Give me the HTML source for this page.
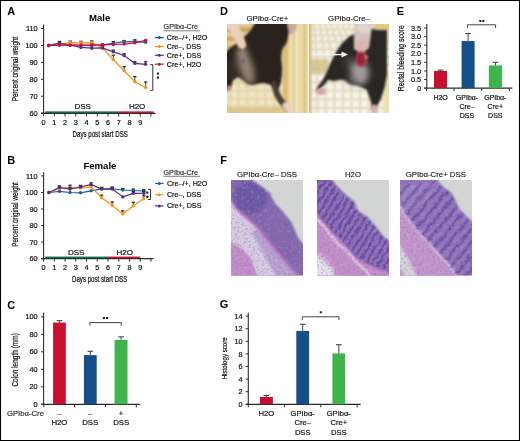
<!DOCTYPE html>
<html><head><meta charset="utf-8"><title>Figure</title>
<style>html,body{margin:0;padding:0;background:#fff;} svg{display:block;will-change:transform;} text{font-family:"Liberation Sans", sans-serif;}</style>
</head><body>
<svg width="520" height="441" viewBox="0 0 520 441" font-family='"Liberation Sans", sans-serif'>
<rect x="0" y="0" width="520" height="441" fill="#fff"/>
<defs>
<filter id="bl0" x="-20%" y="-20%" width="140%" height="140%"><feGaussianBlur stdDeviation="0.5"/></filter>
<filter id="bl1" x="-20%" y="-20%" width="140%" height="140%"><feGaussianBlur stdDeviation="0.8"/></filter>
<filter id="bl2" x="-30%" y="-30%" width="160%" height="160%"><feGaussianBlur stdDeviation="1.8"/></filter>
<filter id="bl3" x="-50%" y="-50%" width="200%" height="200%"><feGaussianBlur stdDeviation="3"/></filter>
<filter id="tex" x="0" y="0" width="100%" height="100%"><feTurbulence type="fractalNoise" baseFrequency="0.45" numOctaves="2" seed="7"/><feColorMatrix type="matrix" values="0 0 0 0 0.30  0 0 0 0 0.18  0 0 0 0 0.52  3.2 0 0 0 -1.55"/><feGaussianBlur stdDeviation="0.35"/></filter>
<filter id="tex2" x="0" y="0" width="100%" height="100%"><feTurbulence type="fractalNoise" baseFrequency="0.3" numOctaves="2" seed="11"/><feColorMatrix type="matrix" values="0 0 0 0 0.85  0 0 0 0 0.72  0 0 0 0 0.92  0 3.0 0 0 -1.6"/><feGaussianBlur stdDeviation="0.4"/></filter>
<filter id="fur" x="0" y="0" width="100%" height="100%"><feTurbulence type="fractalNoise" baseFrequency="0.5 0.25" numOctaves="2" seed="4"/><feColorMatrix type="matrix" values="0 0 0 0 0.55  0 0 0 0 0.5  0 0 0 0 0.45  2.2 0 0 0 -1.15"/></filter>
<clipPath id="cpD1"><rect x="0" y="0" width="81" height="89"/></clipPath>
<clipPath id="cpD2"><rect x="0" y="0" width="80" height="89"/></clipPath>
<clipPath id="cpH"><rect x="0" y="0" width="72" height="95.5"/></clipPath>
<filter id="wavy" x="-10%" y="-10%" width="120%" height="120%"><feTurbulence type="fractalNoise" baseFrequency="0.15" numOctaves="2" seed="3" result="n"/><feDisplacementMap in="SourceGraphic" in2="n" scale="5" xChannelSelector="R" yChannelSelector="G"/><feGaussianBlur stdDeviation="0.45"/></filter>
<pattern id="crH2" patternUnits="userSpaceOnUse" width="6" height="6" patternTransform="rotate(32)"><rect x="0" y="0" width="6" height="6" fill="#9a7ec0"/><rect x="0" y="0" width="2.2" height="6" fill="#4e3490"/><rect x="3.6" y="0" width="0.8" height="6" fill="#c0aad6"/></pattern>
<pattern id="crH3" patternUnits="userSpaceOnUse" width="8.5" height="8.5" patternTransform="rotate(40)"><rect x="0" y="0" width="8.5" height="8.5" fill="#9e86c4"/><rect x="0" y="0" width="2.6" height="8.5" fill="#553a94"/><rect x="5" y="0" width="1.2" height="8.5" fill="#c8b6dc"/></pattern>
</defs>
<g transform="translate(227,24)" clip-path="url(#cpD1)">
<rect x="0" y="0" width="81" height="89" fill="#d8bc80"/>
<g filter="url(#bl1)">
<rect x="-5" y="-2" width="40" height="4" fill="#e6cf98"/>
<rect x="-5" y="4" width="40" height="4" fill="#c9a35f"/>
<rect x="-5" y="8" width="40" height="4" fill="#e6cf96"/>
<rect x="-5" y="13" width="40" height="4" fill="#cdaa68"/>
<rect x="-5" y="17" width="40" height="4" fill="#e4ce98"/>
<rect x="-5" y="22" width="40" height="4" fill="#d4b276"/>
<rect x="-5" y="48" width="63" height="46" fill="#e6d8aa"/>
<rect x="-5" y="52" width="6" height="5" fill="#efe6c8"/>
<rect x="-5" y="60" width="6" height="5" fill="#efe6c8"/>
<rect x="-5" y="68" width="6" height="5" fill="#efe6c8"/>
<rect x="-5" y="76" width="6" height="5" fill="#efe6c8"/>
<rect x="-5" y="84" width="6" height="5" fill="#efe6c8"/>
<rect x="4" y="52" width="6" height="5" fill="#efe6c8"/>
<rect x="4" y="60" width="6" height="5" fill="#efe6c8"/>
<rect x="4" y="68" width="6" height="5" fill="#efe6c8"/>
<rect x="4" y="76" width="6" height="5" fill="#efe6c8"/>
<rect x="4" y="84" width="6" height="5" fill="#efe6c8"/>
<rect x="13" y="52" width="6" height="5" fill="#efe6c8"/>
<rect x="13" y="60" width="6" height="5" fill="#efe6c8"/>
<rect x="13" y="68" width="6" height="5" fill="#efe6c8"/>
<rect x="13" y="76" width="6" height="5" fill="#efe6c8"/>
<rect x="13" y="84" width="6" height="5" fill="#efe6c8"/>
<rect x="22" y="52" width="6" height="5" fill="#efe6c8"/>
<rect x="22" y="60" width="6" height="5" fill="#efe6c8"/>
<rect x="22" y="68" width="6" height="5" fill="#efe6c8"/>
<rect x="22" y="76" width="6" height="5" fill="#efe6c8"/>
<rect x="22" y="84" width="6" height="5" fill="#efe6c8"/>
<rect x="31" y="52" width="6" height="5" fill="#efe6c8"/>
<rect x="31" y="60" width="6" height="5" fill="#efe6c8"/>
<rect x="31" y="68" width="6" height="5" fill="#efe6c8"/>
<rect x="31" y="76" width="6" height="5" fill="#efe6c8"/>
<rect x="31" y="84" width="6" height="5" fill="#efe6c8"/>
<rect x="40" y="52" width="6" height="5" fill="#efe6c8"/>
<rect x="40" y="60" width="6" height="5" fill="#efe6c8"/>
<rect x="40" y="68" width="6" height="5" fill="#efe6c8"/>
<rect x="40" y="76" width="6" height="5" fill="#efe6c8"/>
<rect x="40" y="84" width="6" height="5" fill="#efe6c8"/>
<rect x="49" y="52" width="6" height="5" fill="#efe6c8"/>
<rect x="49" y="60" width="6" height="5" fill="#efe6c8"/>
<rect x="49" y="68" width="6" height="5" fill="#efe6c8"/>
<rect x="49" y="76" width="6" height="5" fill="#efe6c8"/>
<rect x="49" y="84" width="6" height="5" fill="#efe6c8"/>
<rect x="58" y="52" width="6" height="5" fill="#efe6c8"/>
<rect x="58" y="60" width="6" height="5" fill="#efe6c8"/>
<rect x="58" y="68" width="6" height="5" fill="#efe6c8"/>
<rect x="58" y="76" width="6" height="5" fill="#efe6c8"/>
<rect x="58" y="84" width="6" height="5" fill="#efe6c8"/>
<rect x="-5" y="83" width="63" height="8" fill="#dcc68e"/>
<rect x="55" y="-5" width="30" height="99" fill="#e2cc8c"/>
<rect x="57" y="-5" width="3" height="99" fill="#d6b872"/>
<rect x="62" y="-5" width="4" height="99" fill="#eedfa8"/>
<rect x="67" y="-5" width="3" height="99" fill="#dcc280"/>
<rect x="68" y="-5" width="3" height="99" fill="#f2e8c4"/>
<rect x="72" y="-5" width="4" height="99" fill="#ecdca6"/>
<rect x="76" y="-5" width="3" height="99" fill="#dec484"/>
<rect x="79" y="-5" width="3" height="99" fill="#ecdeaa"/>
</g>
<g filter="url(#bl1)">
<polygon points="58,-3 71,-3 69,6 64,11 60,10" fill="#c6aa9a" />
<polygon points="29,-3 60,-3 62,8 60,18 55,26 54,34 55,42 55,50 54,58 52,64 49,66 46,62 41,60 36,59 30,60 25,61 21,60 16,56 11,53 6,56 4,63 1,66 -3,66 -3,30 3,24 9,20 14,16 18,12 24,6" fill="#2a221d" />
</g>
<g filter="url(#bl3)">
<ellipse cx="19" cy="43" rx="7" ry="18" transform="rotate(-18 19 43)" fill="#928274"/>
<ellipse cx="15" cy="28" rx="5.5" ry="4.5" fill="#a49484"/>
<ellipse cx="4" cy="46" rx="3" ry="10" fill="#3a322e"/>
</g>
<g filter="url(#bl1)">
<path d="M47,60 L50,70 L54,77 L59,83" stroke="#4a3a36" stroke-width="6" fill="none" stroke-linecap="round"/>
<ellipse cx="61" cy="83" rx="6" ry="3.6" transform="rotate(30 61 83)" fill="#ead2ca"/>
<ellipse cx="2" cy="64" rx="2.5" ry="2.5" fill="#c89088"/>
<polygon points="-3,-3 11,-3 14,8 18,16 19.5,22 16,25.5 11.5,23.5 7,14 2,6 -3,2" fill="#ead0bc" />
<ellipse cx="16" cy="37" rx="1.5" ry="2.2" fill="#5a5a78"/>
</g>
</g>
<g transform="translate(309,24)" clip-path="url(#cpD2)">
<rect x="0" y="0" width="80" height="89" fill="#e0d4b2"/>
<g filter="url(#bl1)">
<rect x="0.4" y="0.4" width="4.0" height="4.0" fill="#f6f3ec"/>
<rect x="6.2" y="0.4" width="4.0" height="4.0" fill="#f6f3ec"/>
<rect x="12.0" y="0.4" width="4.0" height="4.0" fill="#f6f3ec"/>
<rect x="17.8" y="0.4" width="4.0" height="4.0" fill="#f6f3ec"/>
<rect x="23.6" y="0.4" width="4.0" height="4.0" fill="#f6f3ec"/>
<rect x="29.4" y="0.4" width="4.0" height="4.0" fill="#f6f3ec"/>
<rect x="35.2" y="0.4" width="4.0" height="4.0" fill="#f6f3ec"/>
<rect x="41.0" y="0.4" width="4.0" height="4.0" fill="#f6f3ec"/>
<rect x="46.8" y="0.4" width="4.0" height="4.0" fill="#f6f3ec"/>
<rect x="52.6" y="0.4" width="4.0" height="4.0" fill="#f6f3ec"/>
<rect x="58.4" y="0.4" width="4.0" height="4.0" fill="#f6f3ec"/>
<rect x="64.2" y="0.4" width="4.0" height="4.0" fill="#f6f3ec"/>
<rect x="70.0" y="0.4" width="4.0" height="4.0" fill="#f6f3ec"/>
<rect x="75.8" y="0.4" width="4.0" height="4.0" fill="#f6f3ec"/>
<rect x="81.6" y="0.4" width="4.0" height="4.0" fill="#f6f3ec"/>
<rect x="0.4" y="6.2" width="4.4" height="4.4" fill="#f6f3ec"/>
<rect x="6.6" y="6.2" width="4.4" height="4.4" fill="#f6f3ec"/>
<rect x="12.8" y="6.2" width="4.4" height="4.4" fill="#f6f3ec"/>
<rect x="19.0" y="6.2" width="4.4" height="4.4" fill="#f6f3ec"/>
<rect x="25.2" y="6.2" width="4.4" height="4.4" fill="#f6f3ec"/>
<rect x="31.4" y="6.2" width="4.4" height="4.4" fill="#f6f3ec"/>
<rect x="37.6" y="6.2" width="4.4" height="4.4" fill="#f6f3ec"/>
<rect x="43.8" y="6.2" width="4.4" height="4.4" fill="#f6f3ec"/>
<rect x="50.0" y="6.2" width="4.4" height="4.4" fill="#f6f3ec"/>
<rect x="56.3" y="6.2" width="4.4" height="4.4" fill="#f6f3ec"/>
<rect x="62.5" y="6.2" width="4.4" height="4.4" fill="#f6f3ec"/>
<rect x="68.7" y="6.2" width="4.4" height="4.4" fill="#f6f3ec"/>
<rect x="74.9" y="6.2" width="4.4" height="4.4" fill="#f6f3ec"/>
<rect x="81.1" y="6.2" width="4.4" height="4.4" fill="#f6f3ec"/>
<rect x="0.4" y="12.4" width="4.8" height="4.8" fill="#f6f3ec"/>
<rect x="7.0" y="12.4" width="4.8" height="4.8" fill="#f6f3ec"/>
<rect x="13.7" y="12.4" width="4.8" height="4.8" fill="#f6f3ec"/>
<rect x="20.3" y="12.4" width="4.8" height="4.8" fill="#f6f3ec"/>
<rect x="27.0" y="12.4" width="4.8" height="4.8" fill="#f6f3ec"/>
<rect x="33.6" y="12.4" width="4.8" height="4.8" fill="#f6f3ec"/>
<rect x="40.2" y="12.4" width="4.8" height="4.8" fill="#f6f3ec"/>
<rect x="46.9" y="12.4" width="4.8" height="4.8" fill="#f6f3ec"/>
<rect x="53.5" y="12.4" width="4.8" height="4.8" fill="#f6f3ec"/>
<rect x="60.2" y="12.4" width="4.8" height="4.8" fill="#f6f3ec"/>
<rect x="66.8" y="12.4" width="4.8" height="4.8" fill="#f6f3ec"/>
<rect x="73.4" y="12.4" width="4.8" height="4.8" fill="#f6f3ec"/>
<rect x="80.1" y="12.4" width="4.8" height="4.8" fill="#f6f3ec"/>
<rect x="0.4" y="19.0" width="5.3" height="5.3" fill="#f6f3ec"/>
<rect x="7.5" y="19.0" width="5.3" height="5.3" fill="#f6f3ec"/>
<rect x="14.6" y="19.0" width="5.3" height="5.3" fill="#f6f3ec"/>
<rect x="21.7" y="19.0" width="5.3" height="5.3" fill="#f6f3ec"/>
<rect x="28.8" y="19.0" width="5.3" height="5.3" fill="#f6f3ec"/>
<rect x="35.9" y="19.0" width="5.3" height="5.3" fill="#f6f3ec"/>
<rect x="43.0" y="19.0" width="5.3" height="5.3" fill="#f6f3ec"/>
<rect x="50.1" y="19.0" width="5.3" height="5.3" fill="#f6f3ec"/>
<rect x="57.2" y="19.0" width="5.3" height="5.3" fill="#f6f3ec"/>
<rect x="64.3" y="19.0" width="5.3" height="5.3" fill="#f6f3ec"/>
<rect x="71.5" y="19.0" width="5.3" height="5.3" fill="#f6f3ec"/>
<rect x="78.6" y="19.0" width="5.3" height="5.3" fill="#f6f3ec"/>
<rect x="0.4" y="26.2" width="5.8" height="5.8" fill="#f6f3ec"/>
<rect x="8.0" y="26.2" width="5.8" height="5.8" fill="#f6f3ec"/>
<rect x="15.6" y="26.2" width="5.8" height="5.8" fill="#f6f3ec"/>
<rect x="23.2" y="26.2" width="5.8" height="5.8" fill="#f6f3ec"/>
<rect x="30.8" y="26.2" width="5.8" height="5.8" fill="#f6f3ec"/>
<rect x="38.4" y="26.2" width="5.8" height="5.8" fill="#f6f3ec"/>
<rect x="46.0" y="26.2" width="5.8" height="5.8" fill="#f6f3ec"/>
<rect x="53.6" y="26.2" width="5.8" height="5.8" fill="#f6f3ec"/>
<rect x="61.2" y="26.2" width="5.8" height="5.8" fill="#f6f3ec"/>
<rect x="68.8" y="26.2" width="5.8" height="5.8" fill="#f6f3ec"/>
<rect x="76.4" y="26.2" width="5.8" height="5.8" fill="#f6f3ec"/>
<rect x="0.4" y="33.8" width="6.3" height="6.3" fill="#f6f3ec"/>
<rect x="8.5" y="33.8" width="6.3" height="6.3" fill="#f6f3ec"/>
<rect x="16.7" y="33.8" width="6.3" height="6.3" fill="#f6f3ec"/>
<rect x="24.8" y="33.8" width="6.3" height="6.3" fill="#f6f3ec"/>
<rect x="32.9" y="33.8" width="6.3" height="6.3" fill="#f6f3ec"/>
<rect x="41.1" y="33.8" width="6.3" height="6.3" fill="#f6f3ec"/>
<rect x="49.2" y="33.8" width="6.3" height="6.3" fill="#f6f3ec"/>
<rect x="57.3" y="33.8" width="6.3" height="6.3" fill="#f6f3ec"/>
<rect x="65.5" y="33.8" width="6.3" height="6.3" fill="#f6f3ec"/>
<rect x="73.6" y="33.8" width="6.3" height="6.3" fill="#f6f3ec"/>
<rect x="81.7" y="33.8" width="6.3" height="6.3" fill="#f6f3ec"/>
<rect x="0.4" y="41.9" width="6.8" height="6.8" fill="#f6f3ec"/>
<rect x="9.0" y="41.9" width="6.8" height="6.8" fill="#f6f3ec"/>
<rect x="17.6" y="41.9" width="6.8" height="6.8" fill="#f6f3ec"/>
<rect x="26.2" y="41.9" width="6.8" height="6.8" fill="#f6f3ec"/>
<rect x="34.8" y="41.9" width="6.8" height="6.8" fill="#f6f3ec"/>
<rect x="43.4" y="41.9" width="6.8" height="6.8" fill="#f6f3ec"/>
<rect x="52.0" y="41.9" width="6.8" height="6.8" fill="#f6f3ec"/>
<rect x="60.6" y="41.9" width="6.8" height="6.8" fill="#f6f3ec"/>
<rect x="69.2" y="41.9" width="6.8" height="6.8" fill="#f6f3ec"/>
<rect x="77.8" y="41.9" width="6.8" height="6.8" fill="#f6f3ec"/>
<rect x="0.4" y="50.5" width="6.8" height="6.8" fill="#f6f3ec"/>
<rect x="9.0" y="50.5" width="6.8" height="6.8" fill="#f6f3ec"/>
<rect x="17.6" y="50.5" width="6.8" height="6.8" fill="#f6f3ec"/>
<rect x="26.2" y="50.5" width="6.8" height="6.8" fill="#f6f3ec"/>
<rect x="34.8" y="50.5" width="6.8" height="6.8" fill="#f6f3ec"/>
<rect x="43.4" y="50.5" width="6.8" height="6.8" fill="#f6f3ec"/>
<rect x="52.0" y="50.5" width="6.8" height="6.8" fill="#f6f3ec"/>
<rect x="60.6" y="50.5" width="6.8" height="6.8" fill="#f6f3ec"/>
<rect x="69.2" y="50.5" width="6.8" height="6.8" fill="#f6f3ec"/>
<rect x="77.8" y="50.5" width="6.8" height="6.8" fill="#f6f3ec"/>
<rect x="0.4" y="59.1" width="6.8" height="6.8" fill="#f6f3ec"/>
<rect x="9.0" y="59.1" width="6.8" height="6.8" fill="#f6f3ec"/>
<rect x="17.6" y="59.1" width="6.8" height="6.8" fill="#f6f3ec"/>
<rect x="26.2" y="59.1" width="6.8" height="6.8" fill="#f6f3ec"/>
<rect x="34.8" y="59.1" width="6.8" height="6.8" fill="#f6f3ec"/>
<rect x="43.4" y="59.1" width="6.8" height="6.8" fill="#f6f3ec"/>
<rect x="52.0" y="59.1" width="6.8" height="6.8" fill="#f6f3ec"/>
<rect x="60.6" y="59.1" width="6.8" height="6.8" fill="#f6f3ec"/>
<rect x="69.2" y="59.1" width="6.8" height="6.8" fill="#f6f3ec"/>
<rect x="77.8" y="59.1" width="6.8" height="6.8" fill="#f6f3ec"/>
<rect x="0.4" y="67.7" width="6.8" height="6.8" fill="#f6f3ec"/>
<rect x="9.0" y="67.7" width="6.8" height="6.8" fill="#f6f3ec"/>
<rect x="17.6" y="67.7" width="6.8" height="6.8" fill="#f6f3ec"/>
<rect x="26.2" y="67.7" width="6.8" height="6.8" fill="#f6f3ec"/>
<rect x="34.8" y="67.7" width="6.8" height="6.8" fill="#f6f3ec"/>
<rect x="43.4" y="67.7" width="6.8" height="6.8" fill="#f6f3ec"/>
<rect x="52.0" y="67.7" width="6.8" height="6.8" fill="#f6f3ec"/>
<rect x="60.6" y="67.7" width="6.8" height="6.8" fill="#f6f3ec"/>
<rect x="69.2" y="67.7" width="6.8" height="6.8" fill="#f6f3ec"/>
<rect x="77.8" y="67.7" width="6.8" height="6.8" fill="#f6f3ec"/>
<rect x="0.4" y="76.3" width="6.8" height="6.8" fill="#f6f3ec"/>
<rect x="9.0" y="76.3" width="6.8" height="6.8" fill="#f6f3ec"/>
<rect x="17.6" y="76.3" width="6.8" height="6.8" fill="#f6f3ec"/>
<rect x="26.2" y="76.3" width="6.8" height="6.8" fill="#f6f3ec"/>
<rect x="34.8" y="76.3" width="6.8" height="6.8" fill="#f6f3ec"/>
<rect x="43.4" y="76.3" width="6.8" height="6.8" fill="#f6f3ec"/>
<rect x="52.0" y="76.3" width="6.8" height="6.8" fill="#f6f3ec"/>
<rect x="60.6" y="76.3" width="6.8" height="6.8" fill="#f6f3ec"/>
<rect x="69.2" y="76.3" width="6.8" height="6.8" fill="#f6f3ec"/>
<rect x="77.8" y="76.3" width="6.8" height="6.8" fill="#f6f3ec"/>
<rect x="0.4" y="84.9" width="6.8" height="6.8" fill="#f6f3ec"/>
<rect x="9.0" y="84.9" width="6.8" height="6.8" fill="#f6f3ec"/>
<rect x="17.6" y="84.9" width="6.8" height="6.8" fill="#f6f3ec"/>
<rect x="26.2" y="84.9" width="6.8" height="6.8" fill="#f6f3ec"/>
<rect x="34.8" y="84.9" width="6.8" height="6.8" fill="#f6f3ec"/>
<rect x="43.4" y="84.9" width="6.8" height="6.8" fill="#f6f3ec"/>
<rect x="52.0" y="84.9" width="6.8" height="6.8" fill="#f6f3ec"/>
<rect x="60.6" y="84.9" width="6.8" height="6.8" fill="#f6f3ec"/>
<rect x="69.2" y="84.9" width="6.8" height="6.8" fill="#f6f3ec"/>
<rect x="77.8" y="84.9" width="6.8" height="6.8" fill="#f6f3ec"/>
<rect x="-3" y="-3" width="5.5" height="95" fill="#d6b878"/>
<rect x="2" y="35" width="18" height="11" fill="#d6c292" opacity="0.85"/>
<rect x="-2" y="44" width="22" height="6" fill="#d2ba84" opacity="0.7"/>
<rect x="65" y="-3" width="18" height="10" fill="#e0c888"/>
<rect x="74" y="48" width="9" height="44" fill="#ece0a8"/>
</g>
<g filter="url(#bl1)">
<polygon points="41,12 47,10 60,4 68,6 78,6 78,50 76,62 72,75 68,82 63,85 62,78 58,66 50,62 41,60 35,56 30,56 25,57 19,56 16,60 11,65 7,67 9,62 13,57 17,50 20,43 22,38 27,28 33,19" fill="#2c2626" />
</g>
<g filter="url(#bl3)">
<ellipse cx="51" cy="49" rx="9" ry="12" fill="#a49c9c"/>
<ellipse cx="44" cy="57" rx="6" ry="3" fill="#6a6264"/>
<ellipse cx="40" cy="38" rx="4" ry="8" fill="#4a4244"/>
</g>
<g filter="url(#bl1)">
<polygon points="46,-3 64,-3 62,10 60,24 53,30 45,25 45,12" fill="#d2c4bc" />
<ellipse cx="55" cy="4" rx="7" ry="5" fill="#e0d6d0"/>
<ellipse cx="52" cy="22" rx="6.5" ry="5.5" fill="#dcb4ac"/>
<ellipse cx="52.5" cy="35" rx="6" ry="8" fill="#b03a48"/>
<ellipse cx="52" cy="35" rx="4" ry="6" fill="#9a2234"/>
<ellipse cx="57.5" cy="33" rx="1.5" ry="1.3" fill="#e0a070"/>
<ellipse cx="12" cy="67.5" rx="5" ry="3.5" fill="#d4a4a4"/>
<ellipse cx="65" cy="85" rx="3.5" ry="4.5" fill="#d8aaaa"/>
</g>
<line x1="3" y1="30.6" x2="34" y2="30.6" stroke="#f0f0f0" stroke-width="1.4"/>
<polygon points="32.5,27.6 39,30.6 32.5,33.6" fill="#f0f0f0" />
</g>
<g transform="translate(231,180)" clip-path="url(#cpH)">
<rect x="0" y="0" width="72" height="96" fill="#8266ac"/>
<g filter="url(#bl1)">
<polygon points="-3,17 4.4,26 10,32.6 17,38 28,48 37,60 46,71 55,82 65,93 72,101 -3,101" fill="#d8cee2" />
<polygon points="28,48 37,60 46,71 55,82 65,93 72,101 48,101 38,84 26,62 20,52" fill="#b8a4ce" />
<polygon points="-3,60 9,67 20,78 28,100 -3,100" fill="#c28ec8" />
<polyline fill="none" stroke="#c273c0" stroke-width="2.4" points="-3,17 4.4,27 10,33.6 17,39 28,49 37,61 46,72 55,83 65,94 72,102"/>
<ellipse cx="19" cy="18" rx="17" ry="16" fill="#6a56a0"/>
</g>
<rect x="0" y="0" width="72" height="96" filter="url(#tex)" opacity="0.55"/>
<rect x="0" y="0" width="72" height="96" filter="url(#tex2)" opacity="0.2"/>
<g filter="url(#bl1)">
<polygon points="21,-3 76,-3 76,65 72,64 67.3,58 63.3,49 60.5,42.2 56,36.5 50.3,29.7 44.7,24 41.3,18.4 39,13 33,8 27,4 22,0.5" fill="#d3d5d5" />
</g>
</g>
<g transform="translate(317,180)" clip-path="url(#cpH)">
<rect x="0" y="0" width="72" height="96" fill="#7658a6"/>
<g filter="url(#bl1)">
<polygon points="-3,30 5,39.5 16,52.4 26,62 40,78 55,86 76,93 76,100 -3,100" fill="#c48ec8" />
<polygon points="-3,71 8,78 16,86 21,100 -3,100" fill="#e4e2ea" />
<polygon points="-3,69 8,76 16,84 22,100 19,100 14,88 6,80 -3,74" fill="#d2a8d4" />
<polyline fill="none" stroke="#f2eef4" stroke-width="1.4" points="-3,36 6.5,46 16,58 21,64.5 29,70 40,83 50,92 55,99"/>
<polyline fill="none" stroke="#c078c0" stroke-width="1.4" points="-3,31 5,40.5 16,53.4 26,63 40,79 55,87 76,94"/>
</g>
<g filter="url(#wavy)" opacity="0.42">
<polygon points="0,0 15.9,0.7 20,6.2 25.4,11.6 30,16 37.5,21.8 41,30.9 50,36.6 59.1,46.8 65.9,55.9 72,60.5 72,91 55,85 40,77 26,61 16,51 5,38 0,31" fill="url(#crH2)" />
</g>
<rect x="0" y="0" width="72" height="96" filter="url(#tex)" opacity="0.55"/>
<rect x="0" y="0" width="72" height="96" filter="url(#tex2)" opacity="0.2"/>
<g filter="url(#bl1)">
<polygon points="15,-3 76,-3 76,62 71.6,60.4 65.9,55.9 59.1,46.8 50,36.6 41,30.9 37.5,21.8 30,16 25.4,11.6 20,6.2 15.9,0.7" fill="#d3d5d5" />
</g>
</g>
<g transform="translate(400,180)" clip-path="url(#cpH)">
<rect x="0" y="0" width="72" height="96" fill="#7e62ac"/>
<g filter="url(#bl1)">
<polygon points="-3,-3 36,-3 30,20 10,30 -3,30" fill="#8e72b6" />
<polygon points="-3,20 0,24 7,37 14,46 22.4,56 31,65 40,75 50,86 58,100 -3,100" fill="#c596cc" />
<polygon points="-3,61 5,73.4 12,85.5 17,96 18,100 -3,100" fill="#d6d6da" />
<polygon points="-3,84 3,92 5,100 -3,100" fill="#c898cc" />
<polyline fill="none" stroke="#ece4ee" stroke-width="1.3" points="0,25 7,37 14,46 22.4,56 31,65 40,75 50,86 58,98"/>
</g>
<g filter="url(#wavy)" opacity="0.38">
<polygon points="0,6 37.7,0.8 43.4,7.1 51.3,12.8 55.8,20.7 58.7,28.6 61.5,30.9 66,35.5 72,41 72,96 58,96 50,85 40,74 31,64 22,55 14,45 7,36 0,26" fill="url(#crH3)" />
</g>
<rect x="0" y="0" width="72" height="96" filter="url(#tex)" opacity="0.55"/>
<rect x="0" y="0" width="72" height="96" filter="url(#tex2)" opacity="0.2"/>
<g filter="url(#bl1)">
<polygon points="37,-3 76,-3 76,43 71.2,41.1 66,35.5 61.5,30.9 58.7,28.6 55.8,20.7 51.3,12.8 43.4,7.1 37.7,0.8" fill="#d3d5d5" />
</g>
</g>
<text x="7.3" y="14.6" font-size="11" text-anchor="start" font-weight="bold" fill="#000" >A</text>
<text x="89.0" y="21.2" font-size="9.6" text-anchor="start" font-weight="bold" fill="#000" >Male</text>
<line x1="43.6" y1="24.5" x2="43.6" y2="113.9" stroke="#2b2b2b" stroke-width="1.1"/>
<line x1="41.0" y1="113.1" x2="43.6" y2="113.1" stroke="#2b2b2b" stroke-width="1"/>
<text x="37.6" y="115.69999999999999" font-size="7.3" text-anchor="end" font-weight="normal" fill="#111"  stroke="#111" stroke-width="0.2">60</text>
<line x1="41.0" y1="96.19999999999999" x2="43.6" y2="96.19999999999999" stroke="#2b2b2b" stroke-width="1"/>
<text x="37.6" y="98.79999999999998" font-size="7.3" text-anchor="end" font-weight="normal" fill="#111"  stroke="#111" stroke-width="0.2">70</text>
<line x1="41.0" y1="79.3" x2="43.6" y2="79.3" stroke="#2b2b2b" stroke-width="1"/>
<text x="37.6" y="81.89999999999999" font-size="7.3" text-anchor="end" font-weight="normal" fill="#111"  stroke="#111" stroke-width="0.2">80</text>
<line x1="41.0" y1="62.4" x2="43.6" y2="62.4" stroke="#2b2b2b" stroke-width="1"/>
<text x="37.6" y="65.0" font-size="7.3" text-anchor="end" font-weight="normal" fill="#111"  stroke="#111" stroke-width="0.2">90</text>
<line x1="41.0" y1="45.5" x2="43.6" y2="45.5" stroke="#2b2b2b" stroke-width="1"/>
<text x="37.6" y="48.1" font-size="7.3" text-anchor="end" font-weight="normal" fill="#111"  stroke="#111" stroke-width="0.2">100</text>
<line x1="41.0" y1="28.599999999999994" x2="43.6" y2="28.599999999999994" stroke="#2b2b2b" stroke-width="1"/>
<text x="37.6" y="31.199999999999996" font-size="7.3" text-anchor="end" font-weight="normal" fill="#111"  stroke="#111" stroke-width="0.2">110</text>
<line x1="41.0" y1="113.4" x2="155.5" y2="113.4" stroke="#2b2b2b" stroke-width="1.3"/>
<line x1="43.6" y1="113.4" x2="43.6" y2="116.4" stroke="#2b2b2b" stroke-width="1"/>
<text x="43.6" y="124.9" font-size="7.3" text-anchor="middle" font-weight="normal" fill="#111"  stroke="#111" stroke-width="0.2">0</text>
<line x1="54.33" y1="113.4" x2="54.33" y2="116.4" stroke="#2b2b2b" stroke-width="1"/>
<text x="54.33" y="124.9" font-size="7.3" text-anchor="middle" font-weight="normal" fill="#111"  stroke="#111" stroke-width="0.2">1</text>
<line x1="65.06" y1="113.4" x2="65.06" y2="116.4" stroke="#2b2b2b" stroke-width="1"/>
<text x="65.06" y="124.9" font-size="7.3" text-anchor="middle" font-weight="normal" fill="#111"  stroke="#111" stroke-width="0.2">2</text>
<line x1="75.78999999999999" y1="113.4" x2="75.78999999999999" y2="116.4" stroke="#2b2b2b" stroke-width="1"/>
<text x="75.78999999999999" y="124.9" font-size="7.3" text-anchor="middle" font-weight="normal" fill="#111"  stroke="#111" stroke-width="0.2">3</text>
<line x1="86.52000000000001" y1="113.4" x2="86.52000000000001" y2="116.4" stroke="#2b2b2b" stroke-width="1"/>
<text x="86.52000000000001" y="124.9" font-size="7.3" text-anchor="middle" font-weight="normal" fill="#111"  stroke="#111" stroke-width="0.2">4</text>
<line x1="97.25" y1="113.4" x2="97.25" y2="116.4" stroke="#2b2b2b" stroke-width="1"/>
<text x="97.25" y="124.9" font-size="7.3" text-anchor="middle" font-weight="normal" fill="#111"  stroke="#111" stroke-width="0.2">5</text>
<line x1="107.97999999999999" y1="113.4" x2="107.97999999999999" y2="116.4" stroke="#2b2b2b" stroke-width="1"/>
<text x="107.97999999999999" y="124.9" font-size="7.3" text-anchor="middle" font-weight="normal" fill="#111"  stroke="#111" stroke-width="0.2">6</text>
<line x1="118.71000000000001" y1="113.4" x2="118.71000000000001" y2="116.4" stroke="#2b2b2b" stroke-width="1"/>
<text x="118.71000000000001" y="124.9" font-size="7.3" text-anchor="middle" font-weight="normal" fill="#111"  stroke="#111" stroke-width="0.2">7</text>
<line x1="129.44" y1="113.4" x2="129.44" y2="116.4" stroke="#2b2b2b" stroke-width="1"/>
<text x="129.44" y="124.9" font-size="7.3" text-anchor="middle" font-weight="normal" fill="#111"  stroke="#111" stroke-width="0.2">8</text>
<line x1="140.17000000000002" y1="113.4" x2="140.17000000000002" y2="116.4" stroke="#2b2b2b" stroke-width="1"/>
<text x="140.17000000000002" y="124.9" font-size="7.3" text-anchor="middle" font-weight="normal" fill="#111"  stroke="#111" stroke-width="0.2">9</text>
<line x1="150.9" y1="113.4" x2="150.9" y2="116.4" stroke="#2b2b2b" stroke-width="1"/>
<rect x="45.1" y="111.4" width="73.61000000000001" height="1.6" fill="#0d6b50"/>
<rect x="118.71000000000001" y="111.4" width="34.8725" height="1.6" fill="#c8102e"/>
<text x="74.4" y="109.30000000000001" font-size="8" text-anchor="start" font-weight="normal" fill="#111"  stroke="#111" stroke-width="0.2">DSS</text>
<text x="128.9" y="109.30000000000001" font-size="8" text-anchor="start" font-weight="normal" fill="#111"  stroke="#111" stroke-width="0.2">H2O</text>
<text transform="translate(72.6,137.2) scale(0.75,1)" font-size="8.2" text-anchor="start" font-weight="normal" fill="#111"  stroke="#111" stroke-width="0.2">Days post start DSS</text>
<text transform="translate(18.3,69.0) rotate(-90) scale(0.762,1)" font-size="8.4" text-anchor="middle" fill="#111" stroke="#111" stroke-width="0.2">Percent original weight</text>
<line x1="59.47" y1="43.303" x2="59.47" y2="41.951" stroke="#4a5060" stroke-width="1.1"/>
<line x1="57.769999999999996" y1="41.951" x2="61.17" y2="41.951" stroke="#151515" stroke-width="1.1"/>
<line x1="102.55" y1="45.16199999999999" x2="102.55" y2="43.809999999999995" stroke="#4a5060" stroke-width="1.1"/>
<line x1="100.85" y1="43.809999999999995" x2="104.25" y2="43.809999999999995" stroke="#151515" stroke-width="1.1"/>
<line x1="113.32000000000001" y1="43.133999999999986" x2="113.32000000000001" y2="41.612999999999985" stroke="#4a5060" stroke-width="1.1"/>
<line x1="111.62" y1="41.612999999999985" x2="115.02000000000001" y2="41.612999999999985" stroke="#151515" stroke-width="1.1"/>
<line x1="124.09" y1="41.782" x2="124.09" y2="40.43" stroke="#4a5060" stroke-width="1.1"/>
<line x1="122.39" y1="40.43" x2="125.79" y2="40.43" stroke="#151515" stroke-width="1.1"/>
<line x1="134.86" y1="41.27499999999999" x2="134.86" y2="39.75399999999999" stroke="#4a5060" stroke-width="1.1"/>
<line x1="133.16000000000003" y1="39.75399999999999" x2="136.56" y2="39.75399999999999" stroke="#151515" stroke-width="1.1"/>
<line x1="145.63" y1="42.28899999999999" x2="145.63" y2="40.26099999999999" stroke="#4a5060" stroke-width="1.1"/>
<line x1="143.93" y1="40.26099999999999" x2="147.32999999999998" y2="40.26099999999999" stroke="#151515" stroke-width="1.1"/>
<polyline fill="none" stroke="#1f5f9c" stroke-width="1.25" points="48.7,45.5 59.5,43.3 70.2,44.8 81.0,45.5 91.8,45.7 102.5,45.2 113.3,43.1 124.1,41.8 134.9,41.3 145.6,42.3"/>
<circle cx="48.7" cy="45.5" r="1.7" fill="#1f5f9c"/>
<circle cx="59.5" cy="43.3" r="1.7" fill="#1f5f9c"/>
<circle cx="70.2" cy="44.8" r="1.7" fill="#1f5f9c"/>
<circle cx="81.0" cy="45.5" r="1.7" fill="#1f5f9c"/>
<circle cx="91.8" cy="45.7" r="1.7" fill="#1f5f9c"/>
<circle cx="102.5" cy="45.2" r="1.7" fill="#1f5f9c"/>
<circle cx="113.3" cy="43.1" r="1.7" fill="#1f5f9c"/>
<circle cx="124.1" cy="41.8" r="1.7" fill="#1f5f9c"/>
<circle cx="134.9" cy="41.3" r="1.7" fill="#1f5f9c"/>
<circle cx="145.6" cy="42.3" r="1.7" fill="#1f5f9c"/>
<line x1="70.24000000000001" y1="42.626999999999995" x2="70.24000000000001" y2="41.105999999999995" stroke="#4a5060" stroke-width="1.1"/>
<line x1="68.54" y1="41.105999999999995" x2="71.94000000000001" y2="41.105999999999995" stroke="#151515" stroke-width="1.1"/>
<line x1="81.01" y1="42.79600000000001" x2="81.01" y2="41.275000000000006" stroke="#4a5060" stroke-width="1.1"/>
<line x1="79.31" y1="41.275000000000006" x2="82.71000000000001" y2="41.275000000000006" stroke="#151515" stroke-width="1.1"/>
<line x1="91.78" y1="42.626999999999995" x2="91.78" y2="40.937" stroke="#4a5060" stroke-width="1.1"/>
<line x1="90.08" y1="40.937" x2="93.48" y2="40.937" stroke="#151515" stroke-width="1.1"/>
<line x1="102.55" y1="48.035" x2="102.55" y2="46.683" stroke="#4a5060" stroke-width="1.1"/>
<line x1="100.85" y1="46.683" x2="104.25" y2="46.683" stroke="#151515" stroke-width="1.1"/>
<line x1="113.32000000000001" y1="59.526999999999994" x2="113.32000000000001" y2="55.132999999999996" stroke="#4a5060" stroke-width="1.1"/>
<line x1="111.62" y1="55.132999999999996" x2="115.02000000000001" y2="55.132999999999996" stroke="#151515" stroke-width="1.1"/>
<line x1="124.09" y1="70.68100000000001" x2="124.09" y2="66.62500000000001" stroke="#4a5060" stroke-width="1.1"/>
<line x1="122.39" y1="66.62500000000001" x2="125.79" y2="66.62500000000001" stroke="#151515" stroke-width="1.1"/>
<line x1="134.86" y1="81.666" x2="134.86" y2="76.596" stroke="#4a5060" stroke-width="1.1"/>
<line x1="133.16000000000003" y1="76.596" x2="136.56" y2="76.596" stroke="#151515" stroke-width="1.1"/>
<line x1="145.63" y1="87.581" x2="145.63" y2="82.004" stroke="#4a5060" stroke-width="1.1"/>
<line x1="143.93" y1="82.004" x2="147.32999999999998" y2="82.004" stroke="#151515" stroke-width="1.1"/>
<polyline fill="none" stroke="#f7941d" stroke-width="1.25" points="48.7,45.5 59.5,44.0 70.2,42.6 81.0,42.8 91.8,42.6 102.5,48.0 113.3,59.5 124.1,70.7 134.9,81.7 145.6,87.6"/>
<circle cx="48.7" cy="45.5" r="1.7" fill="#f7941d"/>
<circle cx="59.5" cy="44.0" r="1.7" fill="#f7941d"/>
<circle cx="70.2" cy="42.6" r="1.7" fill="#f7941d"/>
<circle cx="81.0" cy="42.8" r="1.7" fill="#f7941d"/>
<circle cx="91.8" cy="42.6" r="1.7" fill="#f7941d"/>
<circle cx="102.5" cy="48.0" r="1.7" fill="#f7941d"/>
<circle cx="113.3" cy="59.5" r="1.7" fill="#f7941d"/>
<circle cx="124.1" cy="70.7" r="1.7" fill="#f7941d"/>
<circle cx="134.9" cy="81.7" r="1.7" fill="#f7941d"/>
<circle cx="145.6" cy="87.6" r="1.7" fill="#f7941d"/>
<line x1="59.47" y1="43.133999999999986" x2="59.47" y2="41.78199999999999" stroke="#4a5060" stroke-width="1.1"/>
<line x1="57.769999999999996" y1="41.78199999999999" x2="61.17" y2="41.78199999999999" stroke="#151515" stroke-width="1.1"/>
<line x1="113.32000000000001" y1="51.753" x2="113.32000000000001" y2="50.063" stroke="#4a5060" stroke-width="1.1"/>
<line x1="111.62" y1="50.063" x2="115.02000000000001" y2="50.063" stroke="#151515" stroke-width="1.1"/>
<line x1="124.09" y1="55.471000000000004" x2="124.09" y2="53.781000000000006" stroke="#4a5060" stroke-width="1.1"/>
<line x1="122.39" y1="53.781000000000006" x2="125.79" y2="53.781000000000006" stroke="#151515" stroke-width="1.1"/>
<line x1="134.86" y1="63.41399999999999" x2="134.86" y2="61.72399999999999" stroke="#4a5060" stroke-width="1.1"/>
<line x1="133.16000000000003" y1="61.72399999999999" x2="136.56" y2="61.72399999999999" stroke="#151515" stroke-width="1.1"/>
<line x1="145.63" y1="64.25899999999999" x2="145.63" y2="61.72399999999999" stroke="#4a5060" stroke-width="1.1"/>
<line x1="143.93" y1="61.72399999999999" x2="147.32999999999998" y2="61.72399999999999" stroke="#151515" stroke-width="1.1"/>
<polyline fill="none" stroke="#5c2d86" stroke-width="1.25" points="48.7,45.5 59.5,43.1 70.2,45.2 81.0,47.4 91.8,48.2 102.5,48.0 113.3,51.8 124.1,55.5 134.9,63.4 145.6,64.3"/>
<circle cx="48.7" cy="45.5" r="1.7" fill="#5c2d86"/>
<circle cx="59.5" cy="43.1" r="1.7" fill="#5c2d86"/>
<circle cx="70.2" cy="45.2" r="1.7" fill="#5c2d86"/>
<circle cx="81.0" cy="47.4" r="1.7" fill="#5c2d86"/>
<circle cx="91.8" cy="48.2" r="1.7" fill="#5c2d86"/>
<circle cx="102.5" cy="48.0" r="1.7" fill="#5c2d86"/>
<circle cx="113.3" cy="51.8" r="1.7" fill="#5c2d86"/>
<circle cx="124.1" cy="55.5" r="1.7" fill="#5c2d86"/>
<circle cx="134.9" cy="63.4" r="1.7" fill="#5c2d86"/>
<circle cx="145.6" cy="64.3" r="1.7" fill="#5c2d86"/>
<polyline fill="none" stroke="#d0103a" stroke-width="1.25" points="48.7,45.5 59.5,45.3 70.2,45.2 81.0,45.0 91.8,44.8 102.5,44.8 113.3,44.5 124.1,44.1 134.9,42.8 145.6,40.4"/>
<circle cx="48.7" cy="45.5" r="1.7" fill="#d0103a"/>
<circle cx="59.5" cy="45.3" r="1.7" fill="#d0103a"/>
<circle cx="70.2" cy="45.2" r="1.7" fill="#d0103a"/>
<circle cx="81.0" cy="45.0" r="1.7" fill="#d0103a"/>
<circle cx="91.8" cy="44.8" r="1.7" fill="#d0103a"/>
<circle cx="102.5" cy="44.8" r="1.7" fill="#d0103a"/>
<circle cx="113.3" cy="44.5" r="1.7" fill="#d0103a"/>
<circle cx="124.1" cy="44.1" r="1.7" fill="#d0103a"/>
<circle cx="134.9" cy="42.8" r="1.7" fill="#d0103a"/>
<circle cx="145.6" cy="40.4" r="1.7" fill="#d0103a"/>
<text x="163.6" y="29.2" font-size="7.2" text-anchor="start" font-weight="normal" fill="#333"  stroke="#333" stroke-width="0.2">GPIbα-Cre</text>
<line x1="163.6" y1="30.8" x2="200.1" y2="30.8" stroke="#444" stroke-width="0.7"/>
<line x1="154.8" y1="37.6" x2="163.8" y2="37.6" stroke="#1f5f9c" stroke-width="1.2"/>
<circle cx="159.3" cy="37.6" r="1.5" fill="#1f5f9c"/>
<text x="166.7" y="40.1" font-size="7.2" text-anchor="start" font-weight="normal" fill="#111"  stroke="#111" stroke-width="0.2">Cre–/+, H2O</text>
<line x1="154.8" y1="46.45" x2="163.8" y2="46.45" stroke="#f7941d" stroke-width="1.2"/>
<circle cx="159.3" cy="46.45" r="1.5" fill="#f7941d"/>
<text x="166.7" y="48.95" font-size="7.2" text-anchor="start" font-weight="normal" fill="#111"  stroke="#111" stroke-width="0.2">Cre–, DSS</text>
<line x1="154.8" y1="55.3" x2="163.8" y2="55.3" stroke="#5c2d86" stroke-width="1.2"/>
<circle cx="159.3" cy="55.3" r="1.5" fill="#5c2d86"/>
<text x="166.7" y="57.8" font-size="7.2" text-anchor="start" font-weight="normal" fill="#111"  stroke="#111" stroke-width="0.2">Cre+, DSS</text>
<line x1="154.8" y1="64.15" x2="163.8" y2="64.15" stroke="#d0103a" stroke-width="1.2"/>
<circle cx="159.3" cy="64.15" r="1.5" fill="#d0103a"/>
<text x="166.7" y="66.65" font-size="7.2" text-anchor="start" font-weight="normal" fill="#111"  stroke="#111" stroke-width="0.2">Cre+, H2O</text>
<path d="M150.20000000000002,64.6 H152.8 V90.3 H150.20000000000002" fill="none" stroke="#333" stroke-width="1"/>
<rect x="156.85" y="72.45" width="2.10" height="2.10" rx="0.4" fill="#1a1a1a"/>
<rect x="156.85" y="76.55" width="2.10" height="2.10" rx="0.4" fill="#1a1a1a"/>
<text x="7.3" y="164.3" font-size="11" text-anchor="start" font-weight="bold" fill="#000" >B</text>
<text x="83.4" y="168.5" font-size="9.6" text-anchor="start" font-weight="bold" fill="#000" >Female</text>
<line x1="43.6" y1="172.3" x2="43.6" y2="259.1" stroke="#2b2b2b" stroke-width="1.1"/>
<line x1="41.0" y1="258.7" x2="43.6" y2="258.7" stroke="#2b2b2b" stroke-width="1"/>
<text x="37.6" y="261.3" font-size="7.3" text-anchor="end" font-weight="normal" fill="#111"  stroke="#111" stroke-width="0.2">60</text>
<line x1="41.0" y1="242.14" x2="43.6" y2="242.14" stroke="#2b2b2b" stroke-width="1"/>
<text x="37.6" y="244.73999999999998" font-size="7.3" text-anchor="end" font-weight="normal" fill="#111"  stroke="#111" stroke-width="0.2">70</text>
<line x1="41.0" y1="225.57999999999998" x2="43.6" y2="225.57999999999998" stroke="#2b2b2b" stroke-width="1"/>
<text x="37.6" y="228.17999999999998" font-size="7.3" text-anchor="end" font-weight="normal" fill="#111"  stroke="#111" stroke-width="0.2">80</text>
<line x1="41.0" y1="209.01999999999998" x2="43.6" y2="209.01999999999998" stroke="#2b2b2b" stroke-width="1"/>
<text x="37.6" y="211.61999999999998" font-size="7.3" text-anchor="end" font-weight="normal" fill="#111"  stroke="#111" stroke-width="0.2">90</text>
<line x1="41.0" y1="192.45999999999998" x2="43.6" y2="192.45999999999998" stroke="#2b2b2b" stroke-width="1"/>
<text x="37.6" y="195.05999999999997" font-size="7.3" text-anchor="end" font-weight="normal" fill="#111"  stroke="#111" stroke-width="0.2">100</text>
<line x1="41.0" y1="175.89999999999998" x2="43.6" y2="175.89999999999998" stroke="#2b2b2b" stroke-width="1"/>
<text x="37.6" y="178.49999999999997" font-size="7.3" text-anchor="end" font-weight="normal" fill="#111"  stroke="#111" stroke-width="0.2">110</text>
<line x1="41.0" y1="258.6" x2="153.4" y2="258.6" stroke="#2b2b2b" stroke-width="1.3"/>
<line x1="43.6" y1="258.6" x2="43.6" y2="261.6" stroke="#2b2b2b" stroke-width="1"/>
<text x="43.6" y="270.1" font-size="7.3" text-anchor="middle" font-weight="normal" fill="#111"  stroke="#111" stroke-width="0.2">0</text>
<line x1="54.34" y1="258.6" x2="54.34" y2="261.6" stroke="#2b2b2b" stroke-width="1"/>
<text x="54.34" y="270.1" font-size="7.3" text-anchor="middle" font-weight="normal" fill="#111"  stroke="#111" stroke-width="0.2">1</text>
<line x1="65.08" y1="258.6" x2="65.08" y2="261.6" stroke="#2b2b2b" stroke-width="1"/>
<text x="65.08" y="270.1" font-size="7.3" text-anchor="middle" font-weight="normal" fill="#111"  stroke="#111" stroke-width="0.2">2</text>
<line x1="75.82" y1="258.6" x2="75.82" y2="261.6" stroke="#2b2b2b" stroke-width="1"/>
<text x="75.82" y="270.1" font-size="7.3" text-anchor="middle" font-weight="normal" fill="#111"  stroke="#111" stroke-width="0.2">3</text>
<line x1="86.56" y1="258.6" x2="86.56" y2="261.6" stroke="#2b2b2b" stroke-width="1"/>
<text x="86.56" y="270.1" font-size="7.3" text-anchor="middle" font-weight="normal" fill="#111"  stroke="#111" stroke-width="0.2">4</text>
<line x1="97.30000000000001" y1="258.6" x2="97.30000000000001" y2="261.6" stroke="#2b2b2b" stroke-width="1"/>
<text x="97.30000000000001" y="270.1" font-size="7.3" text-anchor="middle" font-weight="normal" fill="#111"  stroke="#111" stroke-width="0.2">5</text>
<line x1="108.03999999999999" y1="258.6" x2="108.03999999999999" y2="261.6" stroke="#2b2b2b" stroke-width="1"/>
<text x="108.03999999999999" y="270.1" font-size="7.3" text-anchor="middle" font-weight="normal" fill="#111"  stroke="#111" stroke-width="0.2">6</text>
<line x1="118.78" y1="258.6" x2="118.78" y2="261.6" stroke="#2b2b2b" stroke-width="1"/>
<text x="118.78" y="270.1" font-size="7.3" text-anchor="middle" font-weight="normal" fill="#111"  stroke="#111" stroke-width="0.2">7</text>
<line x1="129.52" y1="258.6" x2="129.52" y2="261.6" stroke="#2b2b2b" stroke-width="1"/>
<text x="129.52" y="270.1" font-size="7.3" text-anchor="middle" font-weight="normal" fill="#111"  stroke="#111" stroke-width="0.2">8</text>
<line x1="140.26" y1="258.6" x2="140.26" y2="261.6" stroke="#2b2b2b" stroke-width="1"/>
<text x="140.26" y="270.1" font-size="7.3" text-anchor="middle" font-weight="normal" fill="#111"  stroke="#111" stroke-width="0.2">9</text>
<line x1="151.0" y1="258.6" x2="151.0" y2="261.6" stroke="#2b2b2b" stroke-width="1"/>
<rect x="45.1" y="256.6" width="62.94" height="1.6" fill="#0d6b50"/>
<rect x="108.03999999999999" y="256.6" width="32.22" height="1.6" fill="#c8102e"/>
<text x="68.0" y="254.50000000000003" font-size="8" text-anchor="start" font-weight="normal" fill="#111"  stroke="#111" stroke-width="0.2">DSS</text>
<text x="116.5" y="254.50000000000003" font-size="8" text-anchor="start" font-weight="normal" fill="#111"  stroke="#111" stroke-width="0.2">H2O</text>
<text transform="translate(72.0,282.4) scale(0.75,1)" font-size="8.2" text-anchor="start" font-weight="normal" fill="#111"  stroke="#111" stroke-width="0.2">Days post start DSS</text>
<text transform="translate(17.9,214.5) rotate(-90) scale(0.762,1)" font-size="8.4" text-anchor="middle" fill="#111" stroke="#111" stroke-width="0.2">Percent original weight</text>
<line x1="112.2" y1="188.8168" x2="112.2" y2="187.3264" stroke="#4a5060" stroke-width="1.1"/>
<line x1="110.5" y1="187.3264" x2="113.9" y2="187.3264" stroke="#151515" stroke-width="1.1"/>
<line x1="122.75" y1="189.976" x2="122.75" y2="188.4856" stroke="#4a5060" stroke-width="1.1"/>
<line x1="121.05" y1="188.4856" x2="124.45" y2="188.4856" stroke="#151515" stroke-width="1.1"/>
<line x1="133.3" y1="190.4728" x2="133.3" y2="188.9824" stroke="#4a5060" stroke-width="1.1"/>
<line x1="131.60000000000002" y1="188.9824" x2="135.0" y2="188.9824" stroke="#151515" stroke-width="1.1"/>
<line x1="143.85" y1="190.96959999999999" x2="143.85" y2="189.4792" stroke="#4a5060" stroke-width="1.1"/>
<line x1="142.15" y1="189.4792" x2="145.54999999999998" y2="189.4792" stroke="#151515" stroke-width="1.1"/>
<polyline fill="none" stroke="#1f5f9c" stroke-width="1.25" points="48.9,192.5 59.5,191.3 70.0,192.5 80.5,192.8 91.1,190.8 101.7,188.8 112.2,188.8 122.8,190.0 133.3,190.5 143.8,191.0"/>
<circle cx="48.9" cy="192.5" r="1.7" fill="#1f5f9c"/>
<circle cx="59.5" cy="191.3" r="1.7" fill="#1f5f9c"/>
<circle cx="70.0" cy="192.5" r="1.7" fill="#1f5f9c"/>
<circle cx="80.5" cy="192.8" r="1.7" fill="#1f5f9c"/>
<circle cx="91.1" cy="190.8" r="1.7" fill="#1f5f9c"/>
<circle cx="101.7" cy="188.8" r="1.7" fill="#1f5f9c"/>
<circle cx="112.2" cy="188.8" r="1.7" fill="#1f5f9c"/>
<circle cx="122.8" cy="190.0" r="1.7" fill="#1f5f9c"/>
<circle cx="133.3" cy="190.5" r="1.7" fill="#1f5f9c"/>
<circle cx="143.8" cy="191.0" r="1.7" fill="#1f5f9c"/>
<line x1="59.45" y1="188.32" x2="59.45" y2="186.664" stroke="#4a5060" stroke-width="1.1"/>
<line x1="57.75" y1="186.664" x2="61.150000000000006" y2="186.664" stroke="#151515" stroke-width="1.1"/>
<line x1="70.0" y1="187.6576" x2="70.0" y2="185.1736" stroke="#4a5060" stroke-width="1.1"/>
<line x1="68.3" y1="185.1736" x2="71.7" y2="185.1736" stroke="#151515" stroke-width="1.1"/>
<line x1="80.55" y1="187.82319999999999" x2="80.55" y2="186.16719999999998" stroke="#4a5060" stroke-width="1.1"/>
<line x1="78.85" y1="186.16719999999998" x2="82.25" y2="186.16719999999998" stroke="#151515" stroke-width="1.1"/>
<line x1="91.1" y1="186.82959999999997" x2="91.1" y2="185.17359999999996" stroke="#4a5060" stroke-width="1.1"/>
<line x1="89.39999999999999" y1="185.17359999999996" x2="92.8" y2="185.17359999999996" stroke="#151515" stroke-width="1.1"/>
<line x1="101.65" y1="197.7592" x2="101.65" y2="195.1096" stroke="#4a5060" stroke-width="1.1"/>
<line x1="99.95" y1="195.1096" x2="103.35000000000001" y2="195.1096" stroke="#151515" stroke-width="1.1"/>
<line x1="112.2" y1="205.3768" x2="112.2" y2="201.8992" stroke="#4a5060" stroke-width="1.1"/>
<line x1="110.5" y1="201.8992" x2="113.9" y2="201.8992" stroke="#151515" stroke-width="1.1"/>
<line x1="122.75" y1="213.988" x2="122.75" y2="210.8416" stroke="#4a5060" stroke-width="1.1"/>
<line x1="121.05" y1="210.8416" x2="124.45" y2="210.8416" stroke="#151515" stroke-width="1.1"/>
<line x1="133.3" y1="205.708" x2="133.3" y2="202.2304" stroke="#4a5060" stroke-width="1.1"/>
<line x1="131.60000000000002" y1="202.2304" x2="135.0" y2="202.2304" stroke="#151515" stroke-width="1.1"/>
<line x1="143.85" y1="198.75279999999998" x2="143.85" y2="195.772" stroke="#4a5060" stroke-width="1.1"/>
<line x1="142.15" y1="195.772" x2="145.54999999999998" y2="195.772" stroke="#151515" stroke-width="1.1"/>
<polyline fill="none" stroke="#f7941d" stroke-width="1.25" points="48.9,192.5 59.5,188.3 70.0,187.7 80.5,187.8 91.1,186.8 101.7,197.8 112.2,205.4 122.8,214.0 133.3,205.7 143.8,198.8"/>
<circle cx="48.9" cy="192.5" r="1.7" fill="#f7941d"/>
<circle cx="59.5" cy="188.3" r="1.7" fill="#f7941d"/>
<circle cx="70.0" cy="187.7" r="1.7" fill="#f7941d"/>
<circle cx="80.5" cy="187.8" r="1.7" fill="#f7941d"/>
<circle cx="91.1" cy="186.8" r="1.7" fill="#f7941d"/>
<circle cx="101.7" cy="197.8" r="1.7" fill="#f7941d"/>
<circle cx="112.2" cy="205.4" r="1.7" fill="#f7941d"/>
<circle cx="122.8" cy="214.0" r="1.7" fill="#f7941d"/>
<circle cx="133.3" cy="205.7" r="1.7" fill="#f7941d"/>
<circle cx="143.8" cy="198.8" r="1.7" fill="#f7941d"/>
<line x1="59.45" y1="187.492" x2="59.45" y2="185.83599999999998" stroke="#4a5060" stroke-width="1.1"/>
<line x1="57.75" y1="185.83599999999998" x2="61.150000000000006" y2="185.83599999999998" stroke="#151515" stroke-width="1.1"/>
<line x1="70.0" y1="188.98239999999998" x2="70.0" y2="187.32639999999998" stroke="#4a5060" stroke-width="1.1"/>
<line x1="68.3" y1="187.32639999999998" x2="71.7" y2="187.32639999999998" stroke="#151515" stroke-width="1.1"/>
<line x1="80.55" y1="186.9952" x2="80.55" y2="185.3392" stroke="#4a5060" stroke-width="1.1"/>
<line x1="78.85" y1="185.3392" x2="82.25" y2="185.3392" stroke="#151515" stroke-width="1.1"/>
<line x1="91.1" y1="184.5112" x2="91.1" y2="182.8552" stroke="#4a5060" stroke-width="1.1"/>
<line x1="89.39999999999999" y1="182.8552" x2="92.8" y2="182.8552" stroke="#151515" stroke-width="1.1"/>
<line x1="101.65" y1="188.98239999999998" x2="101.65" y2="187.32639999999998" stroke="#4a5060" stroke-width="1.1"/>
<line x1="99.95" y1="187.32639999999998" x2="103.35000000000001" y2="187.32639999999998" stroke="#151515" stroke-width="1.1"/>
<line x1="112.2" y1="188.8168" x2="112.2" y2="187.1608" stroke="#4a5060" stroke-width="1.1"/>
<line x1="110.5" y1="187.1608" x2="113.9" y2="187.1608" stroke="#151515" stroke-width="1.1"/>
<line x1="133.3" y1="193.288" x2="133.3" y2="191.79760000000002" stroke="#4a5060" stroke-width="1.1"/>
<line x1="131.60000000000002" y1="191.79760000000002" x2="135.0" y2="191.79760000000002" stroke="#151515" stroke-width="1.1"/>
<line x1="143.85" y1="193.288" x2="143.85" y2="191.632" stroke="#4a5060" stroke-width="1.1"/>
<line x1="142.15" y1="191.632" x2="145.54999999999998" y2="191.632" stroke="#151515" stroke-width="1.1"/>
<polyline fill="none" stroke="#5c2d86" stroke-width="1.25" points="48.9,192.5 59.5,187.5 70.0,189.0 80.5,187.0 91.1,184.5 101.7,189.0 112.2,188.8 122.8,196.9 133.3,193.3 143.8,193.3"/>
<circle cx="48.9" cy="192.5" r="1.7" fill="#5c2d86"/>
<circle cx="59.5" cy="187.5" r="1.7" fill="#5c2d86"/>
<circle cx="70.0" cy="189.0" r="1.7" fill="#5c2d86"/>
<circle cx="80.5" cy="187.0" r="1.7" fill="#5c2d86"/>
<circle cx="91.1" cy="184.5" r="1.7" fill="#5c2d86"/>
<circle cx="101.7" cy="189.0" r="1.7" fill="#5c2d86"/>
<circle cx="112.2" cy="188.8" r="1.7" fill="#5c2d86"/>
<circle cx="122.8" cy="196.9" r="1.7" fill="#5c2d86"/>
<circle cx="133.3" cy="193.3" r="1.7" fill="#5c2d86"/>
<circle cx="143.8" cy="193.3" r="1.7" fill="#5c2d86"/>
<text x="163.5" y="174.7" font-size="7.2" text-anchor="start" font-weight="normal" fill="#333"  stroke="#333" stroke-width="0.2">GPIbα-Cre</text>
<line x1="163.5" y1="176.29999999999998" x2="200.0" y2="176.29999999999998" stroke="#444" stroke-width="0.7"/>
<line x1="155.0" y1="183.4" x2="163.5" y2="183.4" stroke="#1f5f9c" stroke-width="1.2"/>
<circle cx="159.25" cy="183.4" r="1.5" fill="#1f5f9c"/>
<text x="166.9" y="185.9" font-size="7.2" text-anchor="start" font-weight="normal" fill="#111"  stroke="#111" stroke-width="0.2">Cre–/+, H2O</text>
<line x1="155.0" y1="194.65" x2="163.5" y2="194.65" stroke="#f7941d" stroke-width="1.2"/>
<circle cx="159.25" cy="194.65" r="1.5" fill="#f7941d"/>
<text x="166.9" y="197.15" font-size="7.2" text-anchor="start" font-weight="normal" fill="#111"  stroke="#111" stroke-width="0.2">Cre–, DSS</text>
<line x1="155.0" y1="205.9" x2="163.5" y2="205.9" stroke="#5c2d86" stroke-width="1.2"/>
<circle cx="159.25" cy="205.9" r="1.5" fill="#5c2d86"/>
<text x="166.9" y="208.4" font-size="7.2" text-anchor="start" font-weight="normal" fill="#111"  stroke="#111" stroke-width="0.2">Cre+, DSS</text>
<path d="M147.9,189.4 H150.5 V199.5 H147.9" fill="none" stroke="#333" stroke-width="1"/>
<rect x="146.25" y="191.55" width="2.10" height="2.10" rx="0.4" fill="#1a1a1a"/>
<rect x="146.25" y="195.85" width="2.10" height="2.10" rx="0.4" fill="#1a1a1a"/>
<text x="7.3" y="308.8" font-size="11" text-anchor="start" font-weight="bold" fill="#000" >C</text>
<line x1="43.6" y1="312.7" x2="43.6" y2="404.8" stroke="#2b2b2b" stroke-width="1.1"/>
<line x1="41.0" y1="404.3" x2="43.6" y2="404.3" stroke="#2b2b2b" stroke-width="1"/>
<text x="37.6" y="406.90000000000003" font-size="7.3" text-anchor="end" font-weight="normal" fill="#111"  stroke="#111" stroke-width="0.2">0</text>
<line x1="41.0" y1="386.8" x2="43.6" y2="386.8" stroke="#2b2b2b" stroke-width="1"/>
<text x="37.6" y="389.40000000000003" font-size="7.3" text-anchor="end" font-weight="normal" fill="#111"  stroke="#111" stroke-width="0.2">20</text>
<line x1="41.0" y1="369.3" x2="43.6" y2="369.3" stroke="#2b2b2b" stroke-width="1"/>
<text x="37.6" y="371.90000000000003" font-size="7.3" text-anchor="end" font-weight="normal" fill="#111"  stroke="#111" stroke-width="0.2">40</text>
<line x1="41.0" y1="351.8" x2="43.6" y2="351.8" stroke="#2b2b2b" stroke-width="1"/>
<text x="37.6" y="354.40000000000003" font-size="7.3" text-anchor="end" font-weight="normal" fill="#111"  stroke="#111" stroke-width="0.2">60</text>
<line x1="41.0" y1="334.3" x2="43.6" y2="334.3" stroke="#2b2b2b" stroke-width="1"/>
<text x="37.6" y="336.90000000000003" font-size="7.3" text-anchor="end" font-weight="normal" fill="#111"  stroke="#111" stroke-width="0.2">80</text>
<line x1="41.0" y1="316.8" x2="43.6" y2="316.8" stroke="#2b2b2b" stroke-width="1"/>
<text x="37.6" y="319.40000000000003" font-size="7.3" text-anchor="end" font-weight="normal" fill="#111"  stroke="#111" stroke-width="0.2">100</text>
<line x1="41.0" y1="404.3" x2="140.2" y2="404.3" stroke="#2b2b2b" stroke-width="1.3"/>
<line x1="43.8" y1="404.3" x2="43.8" y2="407.3" stroke="#2b2b2b" stroke-width="1"/>
<line x1="74.6" y1="404.3" x2="74.6" y2="407.3" stroke="#2b2b2b" stroke-width="1"/>
<line x1="105.4" y1="404.3" x2="105.4" y2="407.3" stroke="#2b2b2b" stroke-width="1"/>
<line x1="136.3" y1="404.3" x2="136.3" y2="407.3" stroke="#2b2b2b" stroke-width="1"/>
<rect x="53.1" y="322.575" width="12.699999999999996" height="81.72500000000002" fill="#c8102e"/>
<line x1="59.45" y1="322.575" x2="59.45" y2="320.65000000000003" stroke="#444" stroke-width="1"/>
<line x1="56.650000000000006" y1="320.65000000000003" x2="62.25" y2="320.65000000000003" stroke="#444" stroke-width="1.1"/>
<rect x="83.9" y="355.125" width="12.799999999999997" height="49.17500000000001" fill="#13508a"/>
<line x1="90.30000000000001" y1="355.125" x2="90.30000000000001" y2="351.27500000000003" stroke="#444" stroke-width="1"/>
<line x1="87.50000000000001" y1="351.27500000000003" x2="93.10000000000001" y2="351.27500000000003" stroke="#444" stroke-width="1.1"/>
<rect x="114.6" y="339.90000000000003" width="12.900000000000006" height="64.39999999999998" fill="#3db54a"/>
<line x1="121.05" y1="339.90000000000003" x2="121.05" y2="336.83750000000003" stroke="#444" stroke-width="1"/>
<line x1="118.25" y1="336.83750000000003" x2="123.85" y2="336.83750000000003" stroke="#444" stroke-width="1.1"/>
<path d="M89.9,325.6 V322.6 H121.3 V325.6" fill="none" stroke="#444" stroke-width="1"/>
<rect x="102.95" y="316.95" width="2.10" height="2.10" rx="0.4" fill="#1a1a1a"/>
<rect x="105.95" y="316.95" width="2.10" height="2.10" rx="0.4" fill="#1a1a1a"/>
<text transform="translate(17.8,359.9) rotate(-90) scale(0.757,1)" font-size="8.6" text-anchor="middle" fill="#111" stroke="#111" stroke-width="0.2">Colon length (mm)</text>
<text x="7.0" y="416.0" font-size="7.7" text-anchor="start" font-weight="normal" fill="#333"  stroke="#333" stroke-width="0.2">GPIbα-Cre</text>
<text x="59.4" y="416.0" font-size="7.6" text-anchor="middle" font-weight="normal" fill="#111"  stroke="#111" stroke-width="0.2">–</text>
<text x="90.2" y="416.0" font-size="7.6" text-anchor="middle" font-weight="normal" fill="#111"  stroke="#111" stroke-width="0.2">–</text>
<text x="121.0" y="416.2" font-size="7.6" text-anchor="middle" font-weight="normal" fill="#111"  stroke="#111" stroke-width="0.2">+</text>
<text x="59.4" y="424.9" font-size="7.8" text-anchor="middle" font-weight="normal" fill="#111"  stroke="#111" stroke-width="0.2">H2O</text>
<text x="90.2" y="424.9" font-size="7.8" text-anchor="middle" font-weight="normal" fill="#111"  stroke="#111" stroke-width="0.2">DSS</text>
<text x="121.2" y="424.9" font-size="7.8" text-anchor="middle" font-weight="normal" fill="#111"  stroke="#111" stroke-width="0.2">DSS</text>
<text x="396.8" y="15.3" font-size="11" text-anchor="start" font-weight="bold" fill="#000" >E</text>
<line x1="426.8" y1="24.0" x2="426.8" y2="88.6" stroke="#2b2b2b" stroke-width="1.1"/>
<line x1="424.2" y1="88.1" x2="426.8" y2="88.1" stroke="#2b2b2b" stroke-width="1"/>
<text x="421.2" y="90.69999999999999" font-size="7.3" text-anchor="end" font-weight="normal" fill="#111"  stroke="#111" stroke-width="0.2">0</text>
<line x1="424.2" y1="79.52" x2="426.8" y2="79.52" stroke="#2b2b2b" stroke-width="1"/>
<text x="421.2" y="82.11999999999999" font-size="7.3" text-anchor="end" font-weight="normal" fill="#111"  stroke="#111" stroke-width="0.2">0.5</text>
<line x1="424.2" y1="70.94" x2="426.8" y2="70.94" stroke="#2b2b2b" stroke-width="1"/>
<text x="421.2" y="73.53999999999999" font-size="7.3" text-anchor="end" font-weight="normal" fill="#111"  stroke="#111" stroke-width="0.2">1.0</text>
<line x1="424.2" y1="62.35999999999999" x2="426.8" y2="62.35999999999999" stroke="#2b2b2b" stroke-width="1"/>
<text x="421.2" y="64.96" font-size="7.3" text-anchor="end" font-weight="normal" fill="#111"  stroke="#111" stroke-width="0.2">1.5</text>
<line x1="424.2" y1="53.779999999999994" x2="426.8" y2="53.779999999999994" stroke="#2b2b2b" stroke-width="1"/>
<text x="421.2" y="56.379999999999995" font-size="7.3" text-anchor="end" font-weight="normal" fill="#111"  stroke="#111" stroke-width="0.2">2.0</text>
<line x1="424.2" y1="45.199999999999996" x2="426.8" y2="45.199999999999996" stroke="#2b2b2b" stroke-width="1"/>
<text x="421.2" y="47.8" font-size="7.3" text-anchor="end" font-weight="normal" fill="#111"  stroke="#111" stroke-width="0.2">2.5</text>
<line x1="424.2" y1="36.61999999999999" x2="426.8" y2="36.61999999999999" stroke="#2b2b2b" stroke-width="1"/>
<text x="421.2" y="39.21999999999999" font-size="7.3" text-anchor="end" font-weight="normal" fill="#111"  stroke="#111" stroke-width="0.2">3.0</text>
<line x1="424.2" y1="28.039999999999992" x2="426.8" y2="28.039999999999992" stroke="#2b2b2b" stroke-width="1"/>
<text x="421.2" y="30.639999999999993" font-size="7.3" text-anchor="end" font-weight="normal" fill="#111"  stroke="#111" stroke-width="0.2">3.5</text>
<line x1="424.2" y1="88.1" x2="512.3" y2="88.1" stroke="#2b2b2b" stroke-width="1.3"/>
<line x1="426.6" y1="88.1" x2="426.6" y2="91.1" stroke="#2b2b2b" stroke-width="1"/>
<line x1="454.1" y1="88.1" x2="454.1" y2="91.1" stroke="#2b2b2b" stroke-width="1"/>
<line x1="481.7" y1="88.1" x2="481.7" y2="91.1" stroke="#2b2b2b" stroke-width="1"/>
<line x1="509.3" y1="88.1" x2="509.3" y2="91.1" stroke="#2b2b2b" stroke-width="1"/>
<rect x="434.0" y="70.94" width="13.0" height="17.159999999999997" fill="#c8102e"/>
<line x1="440.5" y1="70.94" x2="440.5" y2="70.082" stroke="#444" stroke-width="1"/>
<line x1="437.7" y1="70.082" x2="443.3" y2="70.082" stroke="#444" stroke-width="1.1"/>
<rect x="461.6" y="41.08159999999999" width="13.0" height="47.01840000000001" fill="#13508a"/>
<line x1="468.1" y1="41.08159999999999" x2="468.1" y2="33.53119999999999" stroke="#444" stroke-width="1"/>
<line x1="465.3" y1="33.53119999999999" x2="470.90000000000003" y2="33.53119999999999" stroke="#444" stroke-width="1.1"/>
<rect x="488.9" y="65.44879999999999" width="13.100000000000023" height="22.651200000000003" fill="#3db54a"/>
<line x1="495.45" y1="65.44879999999999" x2="495.45" y2="62.35999999999999" stroke="#444" stroke-width="1"/>
<line x1="492.65" y1="62.35999999999999" x2="498.25" y2="62.35999999999999" stroke="#444" stroke-width="1.1"/>
<path d="M467.5,27.900000000000002 V24.8 H495.6 V27.900000000000002" fill="none" stroke="#444" stroke-width="1"/>
<rect x="479.25" y="19.95" width="2.10" height="2.10" rx="0.4" fill="#1a1a1a"/>
<rect x="482.25" y="19.95" width="2.10" height="2.10" rx="0.4" fill="#1a1a1a"/>
<text transform="translate(404.1,58.2) rotate(-90) scale(0.82,1)" font-size="8.4" text-anchor="middle" fill="#111" stroke="#111" stroke-width="0.2">Rectal bleeding score</text>
<text x="440.6" y="99.7" font-size="7" text-anchor="middle" font-weight="normal" fill="#111"  stroke="#111" stroke-width="0.2">H2O</text>
<text x="467.0" y="99.7" font-size="7" text-anchor="middle" font-weight="normal" fill="#111"  stroke="#111" stroke-width="0.2">GPIbα-</text>
<text x="467.0" y="108.95" font-size="7" text-anchor="middle" font-weight="normal" fill="#111"  stroke="#111" stroke-width="0.2">Cre–</text>
<text x="467.0" y="118.2" font-size="7" text-anchor="middle" font-weight="normal" fill="#111"  stroke="#111" stroke-width="0.2">DSS</text>
<text x="495.3" y="99.7" font-size="7" text-anchor="middle" font-weight="normal" fill="#111"  stroke="#111" stroke-width="0.2">GPIbα-</text>
<text x="495.3" y="108.95" font-size="7" text-anchor="middle" font-weight="normal" fill="#111"  stroke="#111" stroke-width="0.2">Cre+</text>
<text x="495.3" y="118.2" font-size="7" text-anchor="middle" font-weight="normal" fill="#111"  stroke="#111" stroke-width="0.2">DSS</text>
<text x="219.8" y="308.4" font-size="11" text-anchor="start" font-weight="bold" fill="#000" >G</text>
<line x1="248.3" y1="312.7" x2="248.3" y2="404.8" stroke="#2b2b2b" stroke-width="1.1"/>
<line x1="245.70000000000002" y1="404.3" x2="248.3" y2="404.3" stroke="#2b2b2b" stroke-width="1"/>
<text x="242.6" y="406.90000000000003" font-size="7.3" text-anchor="end" font-weight="normal" fill="#111"  stroke="#111" stroke-width="0.2">0</text>
<line x1="245.70000000000002" y1="391.7" x2="248.3" y2="391.7" stroke="#2b2b2b" stroke-width="1"/>
<text x="242.6" y="394.3" font-size="7.3" text-anchor="end" font-weight="normal" fill="#111"  stroke="#111" stroke-width="0.2">2</text>
<line x1="245.70000000000002" y1="379.1" x2="248.3" y2="379.1" stroke="#2b2b2b" stroke-width="1"/>
<text x="242.6" y="381.70000000000005" font-size="7.3" text-anchor="end" font-weight="normal" fill="#111"  stroke="#111" stroke-width="0.2">4</text>
<line x1="245.70000000000002" y1="366.5" x2="248.3" y2="366.5" stroke="#2b2b2b" stroke-width="1"/>
<text x="242.6" y="369.1" font-size="7.3" text-anchor="end" font-weight="normal" fill="#111"  stroke="#111" stroke-width="0.2">6</text>
<line x1="245.70000000000002" y1="353.90000000000003" x2="248.3" y2="353.90000000000003" stroke="#2b2b2b" stroke-width="1"/>
<text x="242.6" y="356.50000000000006" font-size="7.3" text-anchor="end" font-weight="normal" fill="#111"  stroke="#111" stroke-width="0.2">8</text>
<line x1="245.70000000000002" y1="341.3" x2="248.3" y2="341.3" stroke="#2b2b2b" stroke-width="1"/>
<text x="242.6" y="343.90000000000003" font-size="7.3" text-anchor="end" font-weight="normal" fill="#111"  stroke="#111" stroke-width="0.2">10</text>
<line x1="245.70000000000002" y1="328.70000000000005" x2="248.3" y2="328.70000000000005" stroke="#2b2b2b" stroke-width="1"/>
<text x="242.6" y="331.30000000000007" font-size="7.3" text-anchor="end" font-weight="normal" fill="#111"  stroke="#111" stroke-width="0.2">12</text>
<line x1="245.70000000000002" y1="316.1" x2="248.3" y2="316.1" stroke="#2b2b2b" stroke-width="1"/>
<text x="242.6" y="318.70000000000005" font-size="7.3" text-anchor="end" font-weight="normal" fill="#111"  stroke="#111" stroke-width="0.2">14</text>
<line x1="245.70000000000002" y1="404.3" x2="360.7" y2="404.3" stroke="#2b2b2b" stroke-width="1.3"/>
<line x1="248.3" y1="404.3" x2="248.3" y2="407.3" stroke="#2b2b2b" stroke-width="1"/>
<line x1="284.4" y1="404.3" x2="284.4" y2="407.3" stroke="#2b2b2b" stroke-width="1"/>
<line x1="320.8" y1="404.3" x2="320.8" y2="407.3" stroke="#2b2b2b" stroke-width="1"/>
<line x1="357.2" y1="404.3" x2="357.2" y2="407.3" stroke="#2b2b2b" stroke-width="1"/>
<rect x="259.9" y="396.992" width="13.0" height="7.307999999999993" fill="#c8102e"/>
<line x1="266.4" y1="396.992" x2="266.4" y2="395.48" stroke="#444" stroke-width="1"/>
<line x1="263.59999999999997" y1="395.48" x2="269.2" y2="395.48" stroke="#444" stroke-width="1.1"/>
<rect x="296.3" y="330.90500000000003" width="12.800000000000011" height="73.39499999999998" fill="#13508a"/>
<line x1="302.70000000000005" y1="330.90500000000003" x2="302.70000000000005" y2="324.29" stroke="#444" stroke-width="1"/>
<line x1="299.90000000000003" y1="324.29" x2="305.50000000000006" y2="324.29" stroke="#444" stroke-width="1.1"/>
<rect x="332.4" y="353.396" width="12.800000000000011" height="50.903999999999996" fill="#3db54a"/>
<line x1="338.79999999999995" y1="353.396" x2="338.79999999999995" y2="344.702" stroke="#444" stroke-width="1"/>
<line x1="335.99999999999994" y1="344.702" x2="341.59999999999997" y2="344.702" stroke="#444" stroke-width="1.1"/>
<path d="M302.3,319.8 V316.8 H339.0 V319.8" fill="none" stroke="#444" stroke-width="1"/>
<rect x="319.75" y="311.15" width="2.10" height="2.10" rx="0.4" fill="#1a1a1a"/>
<text transform="translate(227.0,358.3) rotate(-90) scale(0.77,1)" font-size="8" text-anchor="middle" fill="#111" stroke="#111" stroke-width="0.2">Histology score</text>
<text x="266.4" y="415.8" font-size="7.6" text-anchor="middle" font-weight="normal" fill="#111"  stroke="#111" stroke-width="0.2">H2O</text>
<text x="302.7" y="415.8" font-size="7.6" text-anchor="middle" font-weight="normal" fill="#111"  stroke="#111" stroke-width="0.2">GPIbα-</text>
<text x="302.7" y="425.15000000000003" font-size="7.6" text-anchor="middle" font-weight="normal" fill="#111"  stroke="#111" stroke-width="0.2">Cre–</text>
<text x="302.7" y="434.5" font-size="7.6" text-anchor="middle" font-weight="normal" fill="#111"  stroke="#111" stroke-width="0.2">DSS</text>
<text x="338.8" y="415.8" font-size="7.6" text-anchor="middle" font-weight="normal" fill="#111"  stroke="#111" stroke-width="0.2">GPIbα-</text>
<text x="338.8" y="425.15000000000003" font-size="7.6" text-anchor="middle" font-weight="normal" fill="#111"  stroke="#111" stroke-width="0.2">Cre+</text>
<text x="338.8" y="434.5" font-size="7.6" text-anchor="middle" font-weight="normal" fill="#111"  stroke="#111" stroke-width="0.2">DSS</text>
<text x="219.9" y="14.6" font-size="11" text-anchor="start" font-weight="bold" fill="#000" >D</text>
<text x="267.4" y="21.0" font-size="7.8" text-anchor="middle" font-weight="normal" fill="#111" stroke="#111" stroke-width="0.12">GPIbα-Cre+</text>
<text x="349.0" y="21.0" font-size="7.8" text-anchor="middle" font-weight="normal" fill="#111" stroke="#111" stroke-width="0.12">GPIbα-Cre–</text>
<text x="220.2" y="164.3" font-size="11" text-anchor="start" font-weight="bold" fill="#000" >F</text>
<text x="267.0" y="177.4" font-size="7.8" text-anchor="middle" font-weight="normal" fill="#111" stroke="#111" stroke-width="0.12">GPIbα-Cre– DSS</text>
<text x="353.0" y="177.4" font-size="7.8" text-anchor="middle" font-weight="normal" fill="#111" stroke="#111" stroke-width="0.12">H2O</text>
<text x="435.8" y="177.4" font-size="7.8" text-anchor="middle" font-weight="normal" fill="#111" stroke="#111" stroke-width="0.12">GPIbα-Cre+ DSS</text>
<rect x="0.5" y="0.5" width="519" height="440" fill="none" stroke="#000" stroke-width="1"/>
</svg>
</body></html>
